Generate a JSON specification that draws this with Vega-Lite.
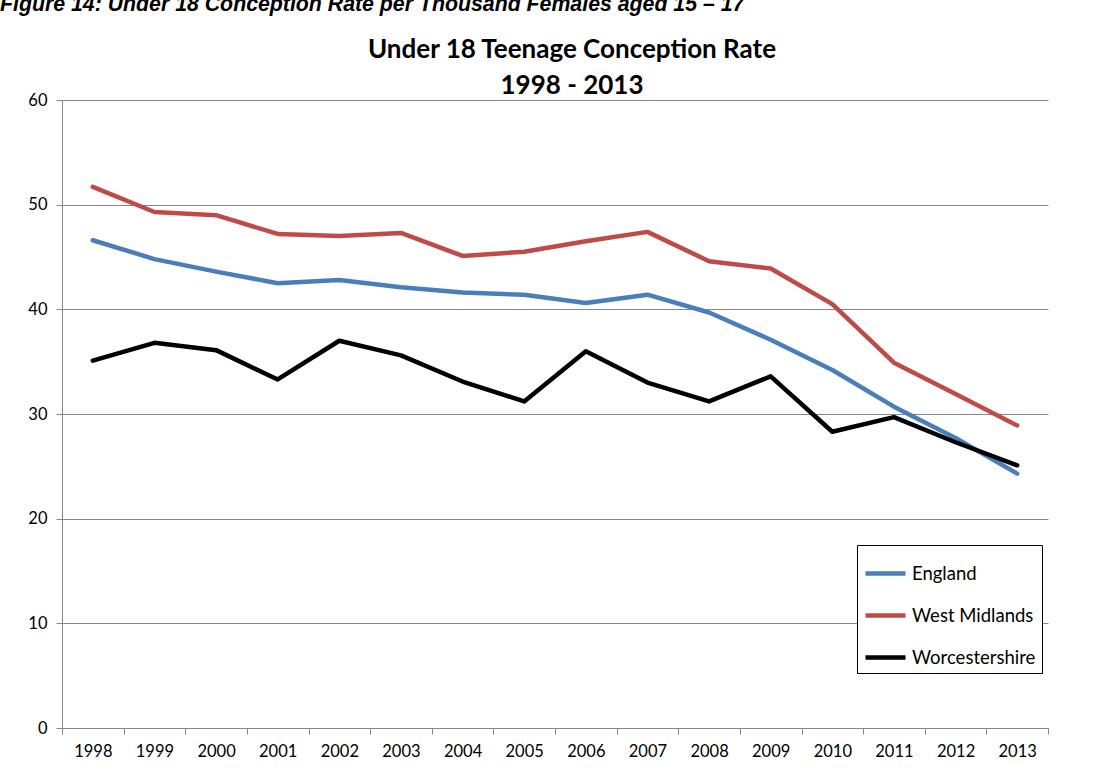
{
  "$schema": "https://vega.github.io/schema/vega-lite/v6.json",
  "padding": {"left": 0, "top": -7, "right": 5, "bottom": 5},
  "background": "white",
  "title": {
    "text": "Figure 14: Under 18 Conception Rate per Thousand Females aged 15 – 17",
    "anchor": "start",
    "frame": "bounds",
    "font": "Liberation Sans",
    "fontSize": 21.3,
    "fontWeight": "bold",
    "fontStyle": "italic",
    "color": "black",
    "offset": 22
  },
  "vconcat": [
    {
      "width": 986,
      "height": 628,
      "title": {
        "text": ["Under 18 Teenage Conception Rate", "1998 - 2013"],
        "font": "Lato",
        "fontSize": 26,
        "fontWeight": "bold",
        "lineHeight": 36,
        "anchor": "middle",
        "dx": 17,
        "offset": -7,
        "color": "black"
      },
      "data": {
        "values": [
          {"year": "1998", "area": "England", "rate": 46.6},
          {"year": "1999", "area": "England", "rate": 44.8},
          {"year": "2000", "area": "England", "rate": 43.6},
          {"year": "2001", "area": "England", "rate": 42.5},
          {"year": "2002", "area": "England", "rate": 42.8},
          {"year": "2003", "area": "England", "rate": 42.1},
          {"year": "2004", "area": "England", "rate": 41.6},
          {"year": "2005", "area": "England", "rate": 41.4},
          {"year": "2006", "area": "England", "rate": 40.6},
          {"year": "2007", "area": "England", "rate": 41.4},
          {"year": "2008", "area": "England", "rate": 39.7},
          {"year": "2009", "area": "England", "rate": 37.1},
          {"year": "2010", "area": "England", "rate": 34.2},
          {"year": "2011", "area": "England", "rate": 30.7},
          {"year": "2012", "area": "England", "rate": 27.7},
          {"year": "2013", "area": "England", "rate": 24.3},
          {"year": "1998", "area": "West Midlands", "rate": 51.7},
          {"year": "1999", "area": "West Midlands", "rate": 49.3},
          {"year": "2000", "area": "West Midlands", "rate": 49.0},
          {"year": "2001", "area": "West Midlands", "rate": 47.2},
          {"year": "2002", "area": "West Midlands", "rate": 47.0},
          {"year": "2003", "area": "West Midlands", "rate": 47.3},
          {"year": "2004", "area": "West Midlands", "rate": 45.1},
          {"year": "2005", "area": "West Midlands", "rate": 45.5},
          {"year": "2006", "area": "West Midlands", "rate": 46.5},
          {"year": "2007", "area": "West Midlands", "rate": 47.4},
          {"year": "2008", "area": "West Midlands", "rate": 44.6},
          {"year": "2009", "area": "West Midlands", "rate": 43.9},
          {"year": "2010", "area": "West Midlands", "rate": 40.5},
          {"year": "2011", "area": "West Midlands", "rate": 34.9},
          {"year": "2012", "area": "West Midlands", "rate": 31.9},
          {"year": "2013", "area": "West Midlands", "rate": 28.9},
          {"year": "1998", "area": "Worcestershire", "rate": 35.1},
          {"year": "1999", "area": "Worcestershire", "rate": 36.8},
          {"year": "2000", "area": "Worcestershire", "rate": 36.1},
          {"year": "2001", "area": "Worcestershire", "rate": 33.3},
          {"year": "2002", "area": "Worcestershire", "rate": 37.0},
          {"year": "2003", "area": "Worcestershire", "rate": 35.6},
          {"year": "2004", "area": "Worcestershire", "rate": 33.1},
          {"year": "2005", "area": "Worcestershire", "rate": 31.2},
          {"year": "2006", "area": "Worcestershire", "rate": 36.0},
          {"year": "2007", "area": "Worcestershire", "rate": 33.0},
          {"year": "2008", "area": "Worcestershire", "rate": 31.2},
          {"year": "2009", "area": "Worcestershire", "rate": 33.6},
          {"year": "2010", "area": "Worcestershire", "rate": 28.3},
          {"year": "2011", "area": "Worcestershire", "rate": 29.7},
          {"year": "2012", "area": "Worcestershire", "rate": 27.3},
          {"year": "2013", "area": "Worcestershire", "rate": 25.1}
        ]
      },
      "mark": {"type": "line", "strokeWidth": 4.5, "strokeJoin": "round", "strokeCap": "round"},
      "encoding": {
        "x": {
          "field": "year",
          "type": "ordinal",
          "scale": {"type": "band", "paddingInner": 0, "paddingOuter": 0},
          "axis": {
            "title": null,
            "labelAngle": 0,
            "tickBand": "extent",
            "grid": false,
            "domainColor": "#868686",
            "tickColor": "#868686",
            "tickSize": 6,
            "labelPadding": 9,
            "labelFont": "Lato",
            "labelFontSize": 16.5,
            "labelColor": "black"
          }
        },
        "y": {
          "field": "rate",
          "type": "quantitative",
          "scale": {"domain": [0, 60], "nice": false},
          "axis": {
            "title": null,
            "values": [0, 10, 20, 30, 40, 50, 60],
            "grid": true,
            "gridColor": "#868686",
            "domainColor": "#868686",
            "tickColor": "#868686",
            "tickSize": 6,
            "labelPadding": 9,
            "minExtent": 62,
            "labelFont": "Lato",
            "labelFontSize": 16.5,
            "labelColor": "black"
          }
        },
        "color": {
          "field": "area",
          "type": "nominal",
          "scale": {
            "domain": ["England", "West Midlands", "Worcestershire"],
            "range": ["#4A7EBB", "#BE4B48", "#000000"]
          },
          "legend": {
            "title": null,
            "orient": "none",
            "legendX": 795,
            "legendY": 445,
            "symbolType": "stroke",
            "symbolSize": 1600,
            "symbolStrokeWidth": 4.5,
            "strokeColor": "black",
            "fillColor": "white",
            "padding": 6,
            "rowPadding": 10,
            "labelFont": "Lato",
            "labelFontSize": 18.5,
            "labelOffset": 4,
            "labelColor": "black"
          }
        }
      }
    }
  ],
  "config": {
    "view": {"stroke": null},
    "font": "Lato"
  }
}
